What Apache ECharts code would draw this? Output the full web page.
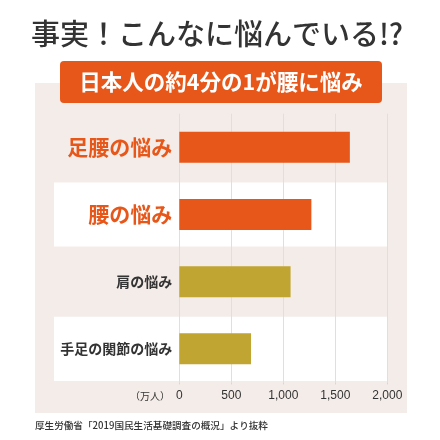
<!DOCTYPE html>
<html>
<head>
<meta charset="utf-8">
<script src="https://cdn.jsdelivr.net/npm/echarts@6/dist/echarts.min.js"></script>
<style>
html,body{margin:0;padding:0;background:#fff;}
#c{width:440px;height:440px;}
</style>
</head>
<body>
<div id="c"></div>
<script>
const categories = ['足腰の悩み', '腰の悩み', '肩の悩み', '手足の関節の悩み'];
const values = [1640, 1270, 1070, 690];
const xMin = 0, xMax = 2000, xStep = 500;
const titleText = '事実！こんなに悩んでいる!?';
const bannerText = '日本人の約4分の1が腰に悩み';
const unitText = '（万人）';
const sourceText = '厚生労働省「2019国民生活基礎調査の概況」より抜粋';

const ORANGE = '#E8571A', GOLD = '#C1A532', BEIGE = '#F3ECE8', DARK = '#333333';
const FONT = '"Noto Sans CJK JP", "Noto Sans", sans-serif';

const chart = echarts.init(document.getElementById('c'), null, {renderer: 'canvas'});

function baseGraphics(stripes) {
  return [
    {type: 'rect', z: -20, shape: {x: 35, y: 83, width: 372, height: 330}, style: {fill: BEIGE}},
    ...stripes,
    {type: 'rect', z: 50, shape: {x: 60, y: 61, width: 322, height: 42, r: 4}, style: {fill: ORANGE}},
    {type: 'text', z: 51, x: 221, y: 82, style: {text: bannerText, fill: '#fff', font: 'bold 21.5px ' + FONT, align: 'center', verticalAlign: 'middle'}},
    {type: 'text', z: 51, x: 217, y: 34, style: {text: titleText, fill: DARK, font: '500 29px ' + FONT, align: 'center', verticalAlign: 'middle'}},
    {type: 'text', z: 51, x: 35, y: 425, style: {text: sourceText, fill: DARK, font: '500 9.6px ' + FONT, align: 'left', verticalAlign: 'middle'}}
  ];
}

chart.setOption({
  animation: false,
  grid: {left: 179.3, right: 52.7, top: 113.7, bottom: 57.6, containLabel: false},
  xAxis: {
    type: 'value', min: xMin, max: xMax, interval: xStep,
    name: unitText, nameLocation: 'start', nameGap: 0,
    nameTextStyle: {color: DARK, fontSize: 10, fontFamily: FONT, verticalAlign: 'top', padding: [9, 0, 0, 0]},
    axisLine: {show: false},
    axisTick: {show: true, length: 2, lineStyle: {color: '#E3D7AE'}},
    splitLine: {show: true, lineStyle: {color: '#E9E0C4', width: 1}},
    axisLabel: {color: DARK, fontSize: 12, fontFamily: '"Liberation Sans", Arial, sans-serif', margin: 7,
      formatter: v => v.toLocaleString('en-US')}
  },
  yAxis: {
    type: 'category', data: categories, inverse: true,
    axisLine: {show: false}, axisTick: {show: false}, splitLine: {show: false},
    axisLabel: {
      margin: 7,
      formatter: (v, i) => (i < 2 ? '{big|' + v + '}' : '{small|' + v + '}'),
      rich: {
        big: {color: ORANGE, fontSize: 21, fontWeight: 'bold', fontFamily: FONT},
        small: {color: DARK, fontSize: 14, fontWeight: 'bold', fontFamily: FONT}
      }
    }
  },
  series: [{
    type: 'bar', data: values, barWidth: 31,
    itemStyle: {color: p => (p.dataIndex < 2 ? ORANGE : GOLD)}
  }],
  graphic: baseGraphics([])
});

// white stripes behind every second category, positioned from the axis scale
const stripes = [];
const yA = chart.convertToPixel({yAxisIndex: 0}, categories[0]);
const yB = chart.convertToPixel({yAxisIndex: 0}, categories[1]);
const band = Math.abs(yB - yA);
categories.forEach((c, i) => {
  if (i % 2 === 1) {
    const yc = chart.convertToPixel({yAxisIndex: 0}, c);
    stripes.push({type: 'rect', z: -10, shape: {x: 54, y: yc - band / 2 + 1.5, width: 333, height: band - 3}, style: {fill: '#ffffff'}});
  }
});
chart.setOption({graphic: baseGraphics(stripes)}, {replaceMerge: ['graphic']});
</script>
</body>
</html>
